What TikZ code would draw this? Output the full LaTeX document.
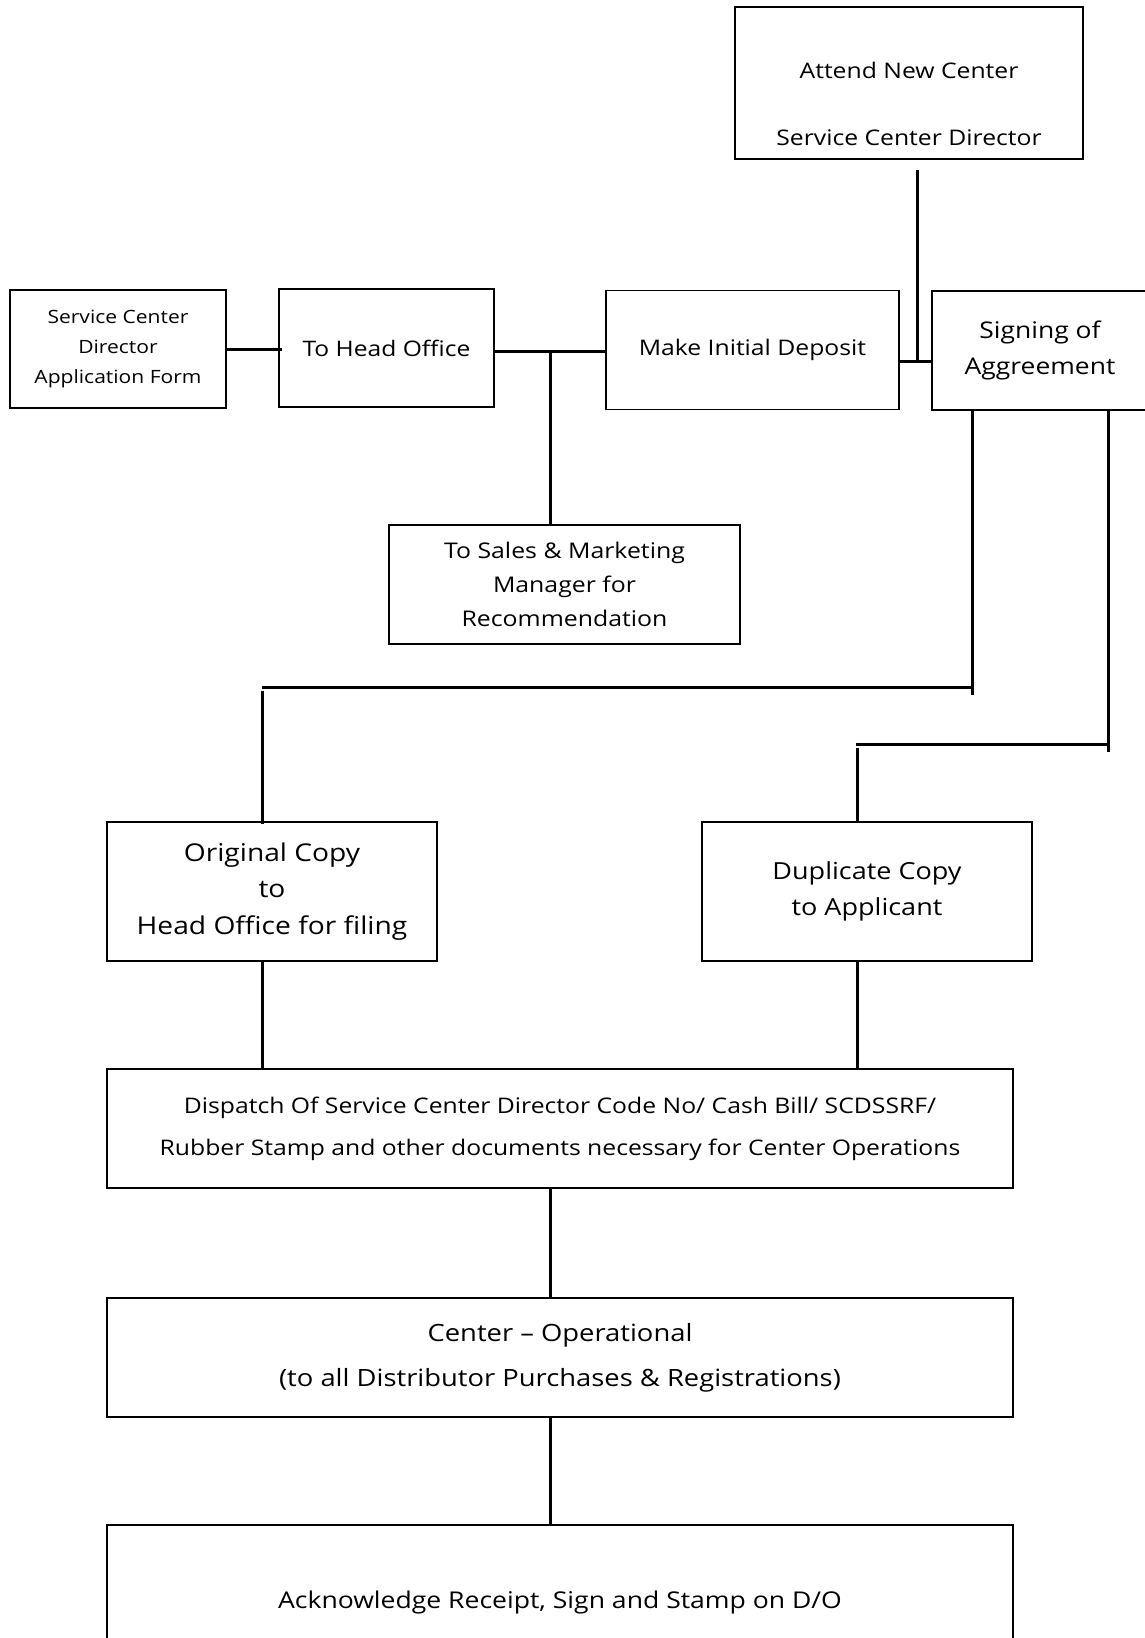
\documentclass[tikz,border=0pt]{standalone}
\usepackage{fontspec}
\setmainfont{Open Sans}[FakeStretch=1.15]
\newcommand{\fsz}[2]{\fontsize{#1}{#2}\selectfont}
\begin{document}
\begin{tikzpicture}[x=1pt,y=-1pt,
  box/.style={draw, line width=1.2pt, inner sep=0pt, align=center},
  conn/.style={line width=3pt},
  txt/.style={inner sep=0pt, align=center}]
\useasboundingbox[fill=white] (0,0) rectangle (1144,1638);
% boxes
\node[box, minimum width=348pt, minimum height=152pt] (attend) at (909,83) {};
\node[txt, font=\fsz{21.5}{67}] (attendtxt) at (909,104) {Attend New Center\\Service Center Director};
\node[box, minimum width=216pt, minimum height=118pt, font=\fsz{18.3}{30}] (scd) at (118,349) {Service Center\\Director\\Application Form};
\node[box, minimum width=215pt, minimum height=118pt, font=\fsz{21.4}{25}] (head) at (386.5,348) {To Head Office};
\node[box, minimum width=293pt, minimum height=119pt, font=\fsz{21.5}{25}] (deposit) at (752.5,350) {Make Initial Deposit};
\node[box, minimum width=216pt, minimum height=119pt, font=\fsz{23}{36}] (sign) at (1040,350.5) {Signing of\\Aggreement};
\node[box, minimum width=351pt, minimum height=119pt, font=\fsz{21.6}{34}] (sales) at (564.5,584.5) {To Sales \& Marketing\\Manager for\\Recommendation};
\node[box, minimum width=330pt, minimum height=139pt, font=\fsz{24.5}{36.5}] (orig) at (272,891.5) {Original Copy\\to\\Head Office for filing};
\node[box, minimum width=330pt, minimum height=139pt, font=\fsz{23.5}{36}] (dup) at (867,891.5) {Duplicate Copy\\to Applicant};
\node[box, minimum width=906pt, minimum height=119pt, font=\fsz{21.5}{42}] (dispatch) at (560,1128.5) {Dispatch Of Service Center Director Code No/ Cash Bill/ SCDSSRF/\\Rubber Stamp and other documents necessary for Center Operations};
\node[box, minimum width=906pt, minimum height=119pt, font=\fsz{23.8}{45}] (center) at (560,1357.5) {Center – Operational\\(to all Distributor Purchases \& Registrations)};
\node[box, minimum width=906pt, minimum height=154pt, font=\fsz{23.1}{26}] (ack) at (560,1602) {Acknowledge Receipt, Sign and Stamp on D/O};
% junction coordinates
\coordinate (jh) at (550,351);
\coordinate (ja) at (917,361);
\coordinate (ja0) at (917,170);
\coordinate (r1) at (972,687);
\coordinate (r1e) at (972,695);
\coordinate (l1) at (262,687);
\coordinate (l1s) at (262,691);
\coordinate (r2) at (1108,744);
\coordinate (r2e) at (1108,752);
\coordinate (l2) at (856,744);
\coordinate (l2s) at (857,748);
\coordinate (jc) at (550,1188);
% connectors
\draw[conn] (scd.east) -- ([xshift=4pt]scd.east -| head.west);
\draw[conn] (head.east |- jh) -- (deposit.west |- jh);
\draw[conn] (jh) -- (jh |- sales.north);
\draw[conn] (deposit.east |- ja) -- (sign.west |- ja);
\draw[conn] (ja0) -- (ja);
\draw[conn] (sign.south -| r1) -- (r1e);
\draw[conn] (l1) -- (r1);
\draw[conn] (l1s) -- ([yshift=-3pt]l1s |- orig.north);
\draw[conn] (sign.south -| r2) -- (r2e);
\draw[conn] (l2) -- (r2);
\draw[conn] (l2s) -- ([yshift=-2pt]l2s |- dup.north);
\draw[conn] (orig.south -| l1) -- (dispatch.north -| l1);
\draw[conn] (dup.south -| l2s) -- (dispatch.north -| l2s);
\draw[conn] (dispatch.south -| jc) -- (center.north -| jc);
\draw[conn] (center.south -| jc) -- (ack.north -| jc);
\end{tikzpicture}
\end{document}
